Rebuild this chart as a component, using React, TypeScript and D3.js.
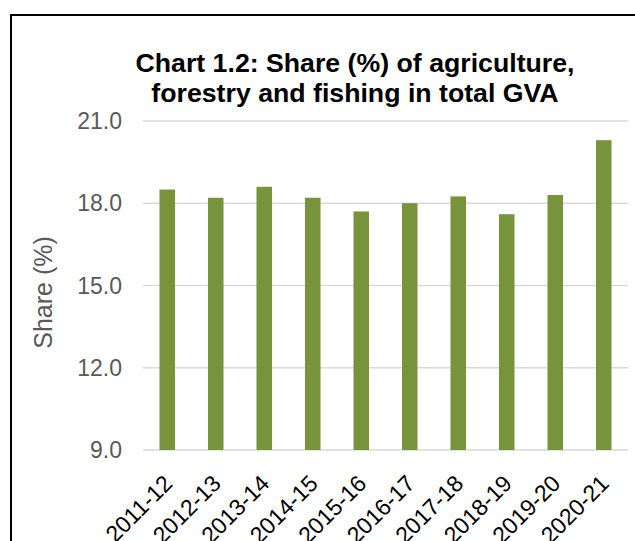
import React from "react";
import * as d3 from "d3";

const categories = ["2011-12","2012-13","2013-14","2014-15","2015-16","2016-17","2017-18","2018-19","2019-20","2020-21"];
const shares = [18.5, 18.2, 18.6, 18.2, 17.7, 18.0, 18.25, 17.6, 18.3, 20.3];
const yTicks = [9, 12, 15, 18, 21];
const titleLines = ["Chart 1.2: Share (%) of agriculture,", "forestry and fishing in total GVA"];
const yLabel = "Share (%)";

export default function App() {
  const W = 635, H = 541;
  const left = 143, right = 628, top = 121, bottom = 450;
  const x = d3.scaleBand<string>().domain(categories).range([left, right]).paddingInner(0.68).paddingOuter(0.34);
  const y = d3.scaleLinear().domain([9, 21]).range([bottom, top]);
  const font = "'Liberation Sans', Arial, sans-serif";
  return (
    <svg width={W} height={H} style={{ position: "absolute", left: 0, top: 0 }}>
      <rect x={0} y={0} width={W} height={H} fill="#fff" />
      <rect x={11} y={15} width={700} height={600} fill="none" stroke="#000" strokeWidth={2} />
      {titleLines.map((t, i) => (
        <text key={i} x={355} y={72 + i * 30} textAnchor="middle" fontFamily={font} fontWeight="bold" fontSize={26.7} fill="#000">{t}</text>
      ))}
      {yTicks.map((t) => (
        <g key={t}>
          <line x1={left} x2={right} y1={y(t)} y2={y(t)} stroke="#d9d9d9" strokeWidth={1.5} />
          <text x={122} y={y(t)} dy="0.35em" textAnchor="end" fontFamily={font} fontSize={23} fill="#595959">{t.toFixed(1)}</text>
        </g>
      ))}
      <text transform={`translate(52,${(top + bottom) / 2 + 7}) rotate(-90)`} textAnchor="middle" fontFamily={font} fontSize={25} fill="#595959">{yLabel}</text>
      {categories.map((c, i) => (
        <rect key={c} x={x(c)} y={y(shares[i])} width={x.bandwidth()} height={y(9) - y(shares[i])} fill="#77933C" />
      ))}
      {categories.map((c) => {
        const cx = (x(c) as number) + x.bandwidth() / 2 + 6.5;
        return (
          <text key={c} transform={`translate(${cx},485) rotate(-45)`} textAnchor="end" fontFamily={font} fontSize={23} fill="#000">{c}</text>
        );
      })}
    </svg>
  );
}
